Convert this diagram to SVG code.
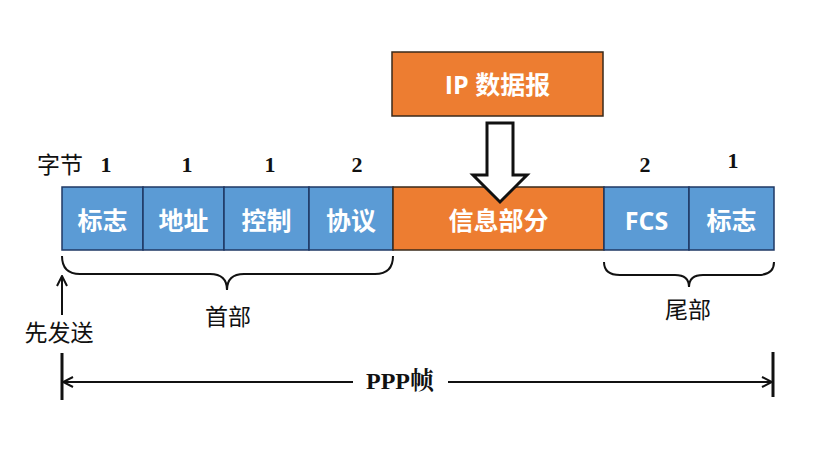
<svg xmlns="http://www.w3.org/2000/svg" width="820" height="449" viewBox="0 0 820 449">
<defs>
<style>
.blue{fill:#5B9BD5;stroke:#1F3864;stroke-width:1.5}
.orange{fill:#ED7D31;stroke:#3A2A1A;stroke-width:1.5}
.lbl{font-family:"Open Sans","Noto Sans CJK SC",sans-serif;font-size:25px;fill:#fff;text-anchor:middle;font-weight:bold}
.num{font-family:"Liberation Serif","Noto Serif CJK SC",serif;font-size:22px;font-weight:bold;fill:#111;text-anchor:middle}
.cap{font-family:"Noto Sans CJK SC",sans-serif;font-size:23px;fill:#111;text-anchor:middle}
.ln{stroke:#111;stroke-width:2;fill:none}
</style>
<marker id="ah" viewBox="0 0 12 12" refX="11" refY="6" markerWidth="12" markerHeight="12" markerUnits="userSpaceOnUse" orient="auto">
<path d="M1,1 L11,6 L1,11" fill="none" stroke="#111" stroke-width="2"/>
</marker>
</defs>
<rect width="820" height="449" fill="#fff"/>
<g id="ip">
<rect class="orange" x="392" y="52" width="211" height="64"/>
<text class="lbl" x="497.5" y="94" font-size="27">IP 数据报</text>
</g>
<g id="flag1"><rect class="blue" x="62" y="187" width="81" height="63"/><text class="lbl" x="102.5" y="230">标志</text></g>
<g id="addr"><rect class="blue" x="143" y="187" width="81" height="63"/><text class="lbl" x="183.5" y="230">地址</text></g>
<g id="ctrl"><rect class="blue" x="224" y="187" width="85" height="63"/><text class="lbl" x="266.5" y="230">控制</text></g>
<g id="proto"><rect class="blue" x="309" y="187" width="84" height="63"/><text class="lbl" x="351" y="230">协议</text></g>
<g id="info"><rect class="orange" x="393" y="187" width="211" height="63"/><text class="lbl" x="498.5" y="230">信息部分</text></g>
<g id="fcs"><rect class="blue" x="604" y="187" width="85" height="63"/><text class="lbl" x="646.5" y="230">FCS</text></g>
<g id="flag2"><rect class="blue" x="689" y="187" width="85" height="63"/><text class="lbl" x="731.5" y="230">标志</text></g>
<g id="labels">
<text class="cap" x="60" y="173">字节</text>
<text class="num" x="106" y="172">1</text>
<text class="num" x="187" y="172">1</text>
<text class="num" x="270" y="172">1</text>
<text class="num" x="357" y="172">2</text>
<text class="num" x="645" y="172">2</text>
<text class="num" x="733" y="168">1</text>
<text class="cap" x="228" y="325">首部</text>
<text class="cap" x="688" y="318">尾部</text>
<text class="cap" x="59" y="341">先发送</text>
<text x="400" y="389" font-family="Liberation Serif,'Noto Serif CJK SC',serif" font-size="24" font-weight="bold" fill="#111" text-anchor="middle">PPP帧</text>
</g>
<g id="connectors">
<path d="M487,123 H513 V175 H527 L500,202 L473,175 H487 Z" fill="#fff" stroke="#111" stroke-width="3" stroke-linejoin="miter"/>
<path class="ln" d="M62,256 Q62,274 80,274 H210 Q227,274 227,290 Q227,274 244,274 H375 Q393,274 393,256"/>
<path class="ln" d="M604,262 Q604,275 620,275 H675 Q689,275 689,287 Q689,275 703,275 H758 Q774,275 774,262"/>
<line class="ln" x1="62" y1="315" x2="62" y2="276" marker-end="url(#ah)"/>
<line x1="62" y1="353" x2="62" y2="400" stroke="#111" stroke-width="3"/>
<line x1="773" y1="352" x2="773" y2="397" stroke="#111" stroke-width="3"/>
<line class="ln" x1="353" y1="382" x2="63" y2="382" marker-end="url(#ah)"/>
<line class="ln" x1="448" y1="382" x2="772" y2="382" marker-end="url(#ah)"/>
</g>
</svg>
